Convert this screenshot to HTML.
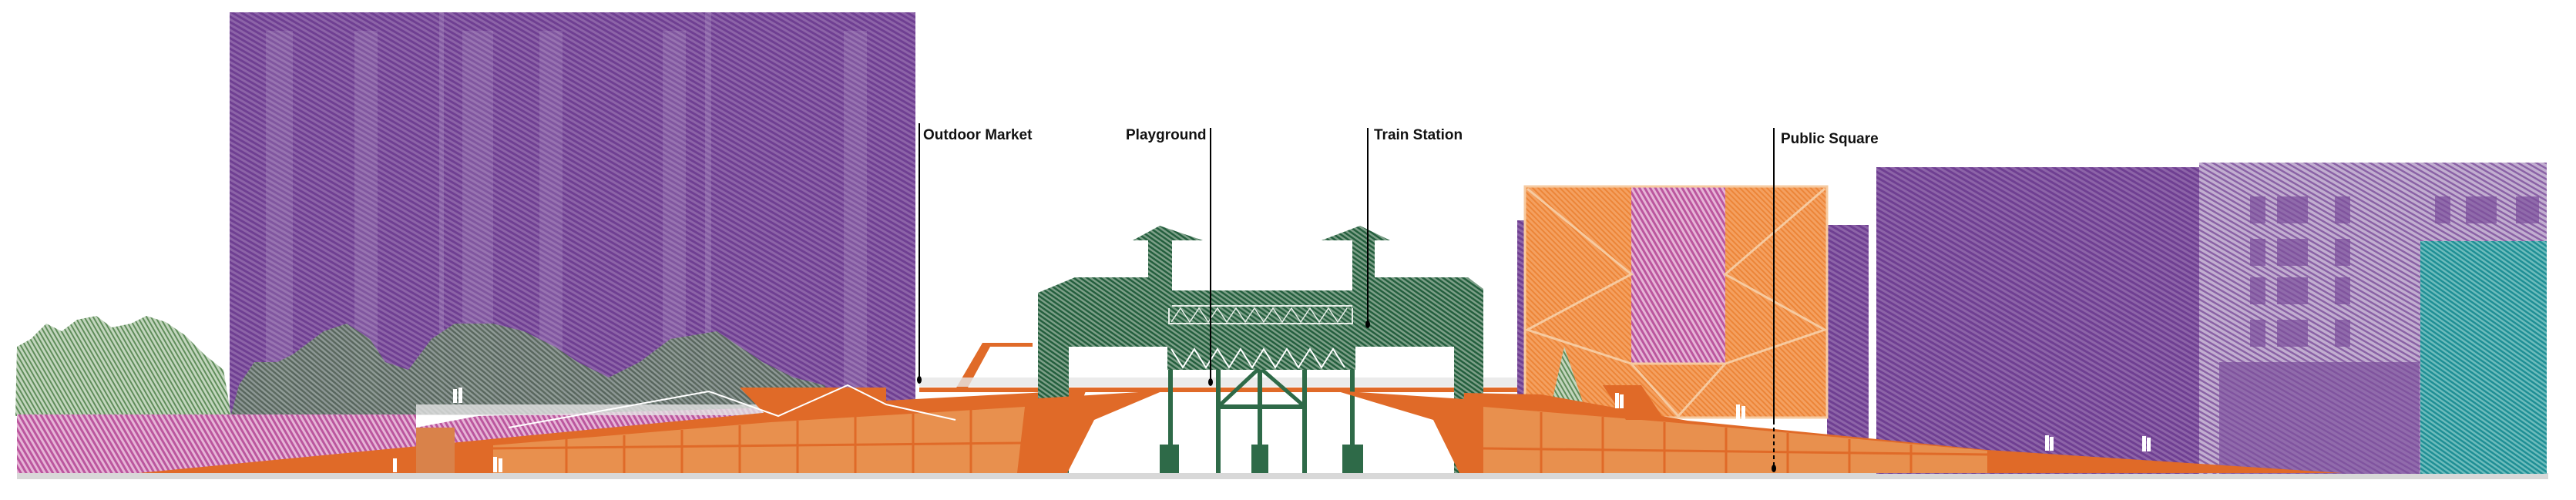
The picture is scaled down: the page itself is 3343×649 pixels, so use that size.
<!DOCTYPE html>
<html><head><meta charset="utf-8"><style>
html,body{margin:0;padding:0;background:#fff;}
svg{display:block;}
text{font-family:"Liberation Sans Narrow","Liberation Sans",sans-serif;font-weight:bold;font-size:19px;fill:#111;}
</style></head><body>
<svg width="3343" height="649" viewBox="0 0 3343 649" xmlns="http://www.w3.org/2000/svg">
<defs>
<pattern id="pp" width="6" height="6" patternUnits="userSpaceOnUse" patternTransform="rotate(30)">
<rect width="6" height="6" fill="#8d64a8"/><rect width="6" height="3" fill="#6f3f92"/></pattern>
<pattern id="pl" width="6" height="6" patternUnits="userSpaceOnUse" patternTransform="rotate(30)">
<rect width="6" height="6" fill="#c2aed0"/><rect width="6" height="2.5" fill="#8a62a6"/></pattern>
<pattern id="pk" width="6" height="6" patternUnits="userSpaceOnUse" patternTransform="rotate(60)">
<rect width="6" height="6" fill="#e6b4d6"/><rect width="6" height="3" fill="#bb569e"/></pattern>
<pattern id="gr" width="5" height="5" patternUnits="userSpaceOnUse" patternTransform="rotate(35)">
<rect width="5" height="5" fill="#7d9f88"/><rect width="5" height="2.5" fill="#245f3e"/></pattern>
<pattern id="tg" width="5" height="5" patternUnits="userSpaceOnUse" patternTransform="rotate(60)">
<rect width="5" height="5" fill="#c3d6be"/><rect width="5" height="2" fill="#5f8d5a"/></pattern>
<pattern id="tr" width="5" height="5" patternUnits="userSpaceOnUse" patternTransform="rotate(40)">
<rect width="5" height="5" fill="#8fa094"/><rect width="5" height="2.5" fill="#566a58"/></pattern>
<pattern id="te" width="5" height="5" patternUnits="userSpaceOnUse" patternTransform="rotate(35)">
<rect width="5" height="5" fill="#6dbcbc"/><rect width="5" height="2.5" fill="#1f8f95"/></pattern>
<pattern id="ob" width="5" height="5" patternUnits="userSpaceOnUse" patternTransform="rotate(45)">
<rect width="5" height="5" fill="#f4a060"/><rect width="5" height="2" fill="#ec8538"/></pattern>
</defs>

<rect x="22" y="614" width="3285" height="8" fill="#d8d8d8"/>

<rect x="298" y="16" width="890" height="522" fill="url(#pp)"/>
<g fill="#b59fca" opacity="0.3">
<rect x="570" y="16" width="6" height="520"/><rect x="915" y="16" width="8" height="520"/>
</g>
<g fill="#c6b2d8" opacity="0.2">
<rect x="345" y="40" width="35" height="480"/><rect x="460" y="40" width="30" height="480"/>
<rect x="600" y="40" width="40" height="480"/><rect x="700" y="40" width="30" height="480"/>
<rect x="860" y="40" width="30" height="480"/><rect x="1095" y="40" width="30" height="480"/>
</g>

<path d="M20,540 L22,450 L40,440 L60,420 L80,430 L100,415 L125,410 L145,425 L170,420 L190,410 L215,418 L240,435 L265,460 L290,480 L300,540 Z" fill="url(#tg)"/>
<path d="M300,538 L310,500 L330,470 L360,470 L380,460 L420,430 L450,420 L480,440 L500,470 L530,480 L560,440 L590,420 L640,420 L680,430 L720,450 L750,470 L790,490 L830,470 L870,440 L930,430 L960,450 L990,470 L1030,490 L1070,500 L1090,538 Z" fill="url(#tr)" opacity="0.9"/>

<path d="M22,538 L540,538 L540,555 L620,540 L1150,525 L1280,518 L1280,560 L180,614 L22,614 Z" fill="url(#pk)"/>
<rect x="540" y="525" width="540" height="14" fill="#e4e4e4" opacity="0.8"/>

<path d="M180,614 L1000,535 L1150,520 L1340,510 L1410,505 L1390,560 L1385,614 Z" fill="#e06a28"/>
<path d="M640,614 L640,578 L1000,548 L1330,528 L1320,614 Z" fill="#e8904e"/>
<g stroke="#e06a28" stroke-width="3">
<line x1="640" y1="582" x2="1325" y2="575"/>
<line x1="735" y1="570" x2="735" y2="614"/><line x1="810" y1="565" x2="810" y2="614"/>
<line x1="885" y1="558" x2="885" y2="614"/><line x1="960" y1="552" x2="960" y2="614"/>
<line x1="1035" y1="546" x2="1035" y2="614"/><line x1="1110" y1="541" x2="1110" y2="614"/>
<line x1="1185" y1="537" x2="1185" y2="614"/><line x1="1260" y1="532" x2="1260" y2="614"/>
</g>
<path d="M960,503 L1150,503 L1150,538 L1000,545 Z" fill="#e06a28"/>
<rect x="540" y="555" width="50" height="59" fill="#d9824a"/>
<polyline points="660,555 760,537 920,508 1010,540 1100,500 1150,525 1240,545" fill="none" stroke="#fff" stroke-width="2"/>
<path d="M1240,505 L1275,445 L1340,445 L1340,450 L1285,450 L1255,505 Z" fill="#e06a28"/>

<rect x="1193" y="503" width="960" height="6" fill="#e06a28"/>
<rect x="1193" y="490" width="940" height="12" fill="#e6e6e6" opacity="0.8"/>

<path d="M1347,380 L1395,360 L1905,360 L1925,375 L1925,614 L1887,614 L1887,450 L1387,450 L1387,614 L1347,614 Z" fill="url(#gr)"/>
<rect x="1515" y="347" width="245" height="30" fill="#fff"/>
<rect x="1517" y="377" width="238" height="73" fill="url(#gr)"/>
<rect x="1517" y="397" width="238" height="23" fill="none" stroke="#e8efe9" stroke-width="2"/>
<path d="M1520,418 L1532,400 L1544,418 L1556,400 L1568,418 L1580,400 L1592,418 L1604,400 L1616,418 L1628,400 L1640,418 L1652,400 L1664,418 L1676,400 L1688,418 L1700,400 L1712,418 L1724,400 L1736,418 L1748,400" fill="none" stroke="#e8efe9" stroke-width="1.5"/>
<rect x="1515" y="450" width="244" height="30" fill="url(#gr)"/>
<path d="M1520,453 L1535,477 L1550,453 L1565,477 L1580,453 L1595,477 L1610,453 L1625,477 L1640,453 L1655,477 L1670,453 L1685,477 L1700,453 L1715,477 L1730,453 L1745,477" fill="none" stroke="#fff" stroke-width="2"/>
<path d="M1490,400 L1490,312 L1470,312 L1505,293 L1561,312 L1521,312 L1521,400 Z" fill="url(#gr)"/>
<path d="M1755,400 L1755,312 L1715,312 L1765,293 L1804,312 L1784,312 L1784,400 Z" fill="url(#gr)"/>
<g fill="#2e6a48">
<rect x="1516" y="480" width="6" height="134"/><rect x="1578" y="480" width="6" height="134"/>
<rect x="1632" y="480" width="6" height="134"/><rect x="1690" y="480" width="6" height="134"/>
<rect x="1752" y="480" width="6" height="134"/>
<rect x="1580" y="525" width="115" height="6"/>
<rect x="1505" y="577" width="25" height="37"/><rect x="1624" y="577" width="22" height="37"/><rect x="1742" y="577" width="27" height="37"/>
</g>
<line x1="1584" y1="525" x2="1632" y2="480" stroke="#2e6a48" stroke-width="5"/>
<line x1="1690" y1="525" x2="1638" y2="480" stroke="#2e6a48" stroke-width="5"/>
<path d="M1300,520 L1510,507 L1420,545 L1385,614 L1345,614 L1345,530 Z" fill="#e06a28"/>
<path d="M1733,507 L1930,520 L1930,614 L1894,614 L1860,545 Z" fill="#e06a28"/>

<rect x="1969" y="286" width="12" height="280" fill="url(#pp)"/>
<rect x="2371" y="292" width="54" height="310" fill="url(#pp)"/>
<rect x="1979" y="242" width="392" height="300" fill="url(#ob)"/>
<rect x="2117" y="242" width="122" height="230" fill="url(#pk)"/>
<g stroke="#f6caa0" stroke-width="3" fill="none">
<polyline points="1982,245 2117,356 1982,428 2117,472"/>
<polyline points="2368,245 2239,356 2368,428 2239,472"/>
<polyline points="2117,472 2239,472 2178,540 2117,472"/>
<rect x="1979" y="242" width="392" height="300"/>
</g>
<path d="M2010,540 L2030,450 L2060,540 Z" fill="url(#tg)"/>

<rect x="2854" y="211" width="451" height="404" fill="url(#pl)"/>
<rect x="2435" y="217" width="419" height="398" fill="url(#pp)"/>
<g fill="#7c4f9c" opacity="0.7">
<rect x="2920" y="255" width="20" height="35"/><rect x="2955" y="255" width="40" height="35"/><rect x="3030" y="255" width="20" height="35"/>
<rect x="2920" y="310" width="20" height="35"/><rect x="2955" y="310" width="40" height="35"/><rect x="3030" y="310" width="20" height="35"/>
<rect x="2920" y="360" width="20" height="35"/><rect x="2955" y="360" width="40" height="35"/><rect x="3030" y="360" width="20" height="35"/>
<rect x="2920" y="415" width="20" height="35"/><rect x="2955" y="415" width="40" height="35"/><rect x="3030" y="415" width="20" height="35"/>
<rect x="3160" y="255" width="20" height="35"/><rect x="3200" y="255" width="40" height="35"/><rect x="3265" y="255" width="30" height="35"/>
<path d="M2880,470 L3140,470 L3140,615 L2880,615 Z"/>
</g>
<rect x="3141" y="313" width="164" height="302" fill="url(#te)"/>

<path d="M1894,614 L1900,510 L2000,512 L2190,546 L2579,584 L3040,614 Z" fill="#e06a28"/>
<path d="M1925,614 L1925,528 L2190,550 L2579,585 L2579,614 Z" fill="#e8904e"/>
<g stroke="#e06a28" stroke-width="3">
<line x1="1925" y1="582" x2="2579" y2="590"/>
<line x1="2000" y1="535" x2="2000" y2="614"/><line x1="2080" y1="541" x2="2080" y2="614"/>
<line x1="2160" y1="548" x2="2160" y2="614"/><line x1="2240" y1="555" x2="2240" y2="614"/>
<line x1="2320" y1="562" x2="2320" y2="614"/><line x1="2400" y1="570" x2="2400" y2="614"/>
<line x1="2480" y1="577" x2="2480" y2="614"/>
</g>
<path d="M2080,500 L2130,500 L2160,545 L2110,545 Z" fill="#e06a28"/>

<g fill="#fff">
<rect x="588" y="505" width="5" height="18"/><rect x="595" y="503" width="5" height="20"/>
<rect x="510" y="595" width="5" height="18"/><rect x="640" y="593" width="5" height="20"/><rect x="647" y="595" width="5" height="18"/>
<rect x="2096" y="510" width="5" height="20"/><rect x="2102" y="512" width="5" height="18"/>
<rect x="2253" y="525" width="5" height="20"/><rect x="2260" y="527" width="5" height="18"/>
<rect x="2654" y="565" width="5" height="20"/><rect x="2660" y="567" width="5" height="18"/>
<rect x="2780" y="566" width="5" height="20"/><rect x="2786" y="568" width="5" height="18"/>
</g>

<g stroke="#000" stroke-width="2">
<line x1="1193" y1="160" x2="1193" y2="492"/>
<line x1="1571" y1="166" x2="1571" y2="495"/>
<line x1="1775" y1="166" x2="1775" y2="420"/>
<line x1="2302" y1="166" x2="2302" y2="546"/>
<line x1="2302" y1="546" x2="2302" y2="606" stroke-dasharray="5,4"/>
</g>
<g fill="#000">
<ellipse cx="1193" cy="493" rx="3" ry="5"/><ellipse cx="1571" cy="496" rx="3" ry="5"/>
<ellipse cx="1775" cy="421" rx="3" ry="5"/><ellipse cx="2302" cy="608" rx="3" ry="5"/>
</g>
<text x="1198" y="181">Outdoor Market</text>
<text x="1461" y="181">Playground</text>
<text x="1783" y="181">Train Station</text>
<text x="2311" y="186">Public Square</text>
</svg>
</body></html>
